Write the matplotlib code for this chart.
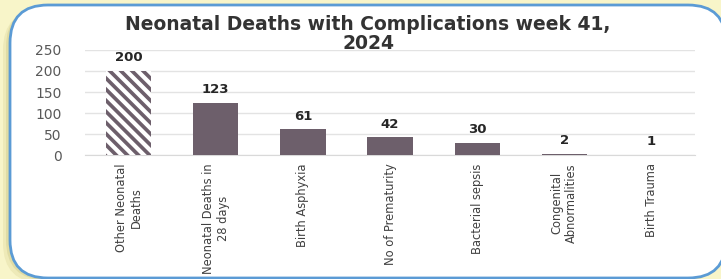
import matplotlib.pyplot as plt
from matplotlib.patches import FancyBboxPatch
from matplotlib.transforms import IdentityTransform

categories = ["Other Neonatal\nDeaths", "Neonatal Deaths in\n28 days", "Birth Asphyxia",
              "No of Prematurity", "Bacterial sepsis", "Congenital\nAbnormalities", "Birth Trauma"]
values = [200, 123, 61, 42, 30, 2, 1]
yticks = [0, 50, 100, 150, 200, 250]
title_lines = ["Neonatal Deaths with Complications week 41,", "2024"]

bar_color = "#6d5f6b"
plt.rcParams["hatch.linewidth"] = 3

fig = plt.figure(figsize=(7.21, 2.79), dpi=100)
fig.patch.set_facecolor("#f8f5c9")

# soft shadow on the left, then the white rounded panel (pixel coordinates)
for off, col in [(7, "#eeeab8"), (4, "#e0dca4")]:
    sh = FancyBboxPatch((10 - off, 1 - off + 2), 716, 273, boxstyle="round,pad=0,rounding_size=40",
                        transform=IdentityTransform(), facecolor=col, edgecolor="none", zorder=-6)
    fig.patches.append(sh)
panel = FancyBboxPatch((10, 1), 716, 273, boxstyle="round,pad=0,rounding_size=38",
                       transform=IdentityTransform(), facecolor="white",
                       edgecolor="#5b9bd5", linewidth=2, zorder=-5)
fig.patches.append(panel)

ax = fig.add_axes([0.118, 0.444, 0.846, 0.377], zorder=2)
ax.set_facecolor("none")

x = range(len(categories))
bars = ax.bar(x, values, width=0.52, color=bar_color, zorder=3)
bars[0].set_hatch("\\\\\\")
bars[0].set_edgecolor("white")
bars[0].set_linewidth(0)

for xi, v in zip(x, values):
    ax.annotate(str(v), (xi, v), textcoords="offset points", xytext=(0, 5),
                ha="center", va="bottom", fontsize=9.5, fontweight="bold",
                color="#262626", family="DejaVu Sans")

ax.set_xlim(-0.5, len(categories) - 0.5)
ax.set_ylim(0, 250)
ax.set_yticks(yticks)
ax.set_yticklabels([str(t) for t in yticks], fontsize=10, color="#595959", family="DejaVu Sans")
ax.set_xticks(list(x))
ax.set_xticklabels(categories, rotation=90, ha="center", va="top", multialignment="center",
                   fontsize=9.2, color="#404040", family="DejaVu Sans", fontstretch="condensed")
ax.tick_params(axis="both", length=0, pad=6)
ax.tick_params(axis="y", pad=17)
ax.grid(axis="y", color="#e3e3e3", linewidth=1, zorder=0)
for s in ["top", "right", "left"]:
    ax.spines[s].set_visible(False)
ax.spines["bottom"].set_color("#d9d9d9")

# title as two separate lines
for line, ypix in zip(title_lines, [25, 44]):
    fig.text(368 / 721, 1 - ypix / 279, line, ha="center", va="center", fontsize=13.5,
             fontweight="bold", color="#333333", family="DejaVu Sans")

fig.savefig("out.png", dpi=100, facecolor=fig.get_facecolor())
